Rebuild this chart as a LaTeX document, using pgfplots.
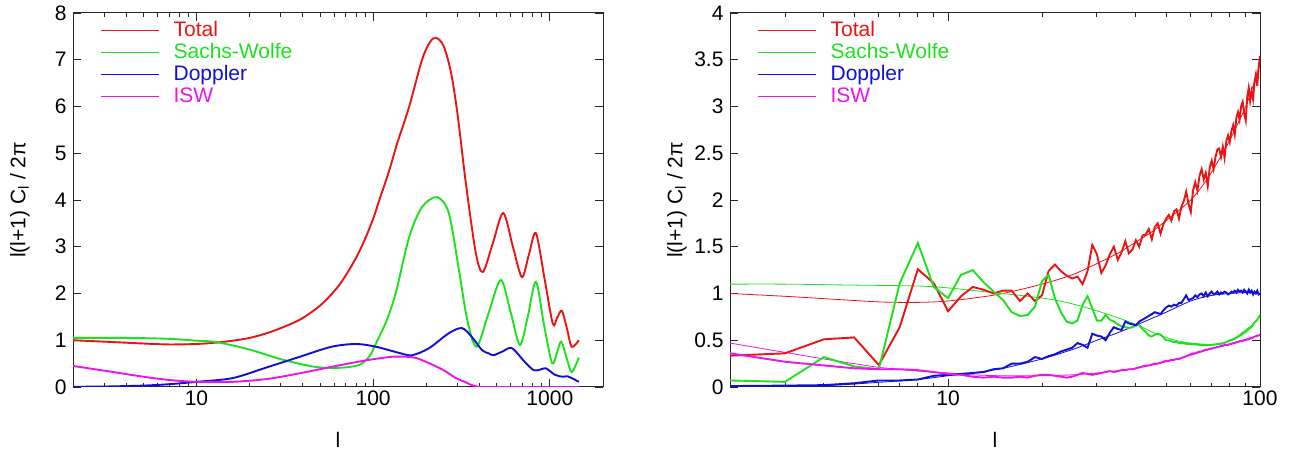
\documentclass[border=0pt]{standalone}
\usepackage{pgfplots}
\pgfplotsset{compat=1.18}
\usepackage{fontspec}
\setmainfont{Liberation Sans}
\definecolor{cR}{RGB}{235,20,20}
\definecolor{cG}{RGB}{30,225,30}
\definecolor{cB}{RGB}{15,15,215}
\definecolor{cM}{RGB}{235,20,235}
\newcommand{\bigfont}{\fontsize{21}{25}\selectfont}
\tikzset{thk/.style={line width=1.9pt}, thn/.style={line width=0.8pt}}
\pgfplotsset{legend image code/.code={\draw[#1, line width=1.4pt] (0pt,0pt) -- (58pt,0pt);}}
\begin{document}
\begin{tikzpicture}[x=1pt,y=1pt]
\useasboundingbox (0,0) rectangle (1293,454);
%================ LEFT =================
\begin{semilogxaxis}[at={(73pt,67pt)}, anchor=south west,
  scale only axis, width=530pt, height=374pt,
  axis line style={black!85, line width=1pt},
  tick style={black!85, line width=0.9pt},
  tick align=inside, major tick length=8pt, minor tick length=4pt,
  /pgf/number format/assume math mode=true,
  ticklabel style={font=\bigfont},
  yticklabel style={xshift=-3pt},
  label style={font=\bigfont},
  ylabel style={at={(axis description cs:-0.1,0.5)}, anchor=center},
  xlabel style={at={(axis description cs:0.5,-0.1417)}, anchor=center},
  legend style={draw=none, fill=none, inner sep=0pt, row sep=3pt, column sep=14pt,
    font=\bigfont, anchor=north west, at={(rel axis cs:0.051,0.979)},
    nodes={inner sep=0pt, text height=15pt, text depth=4pt}},
  legend cell align=left,
  ylabel={l(l+1) C\textsubscript{l} / 2π},
  xlabel={l},
  xmin=2, xmax=2000, ymin=0, ymax=8,
  xtick={10,100,1000}, xticklabels={10,100,1000},
  minor xtick={2,3,4,5,6,7,8,9,20,30,40,50,60,70,80,90,200,300,400,500,600,700,800,900,2000},
  ytick={0,1,2,3,4,5,6,7,8}]
\addplot[cR, thk, smooth] coordinates {
(2,1.00)(3,0.97)(5,0.93)(7,0.91)(10,0.92)(13,0.95)(16,0.99)(20,1.05)(25,1.15)(31,1.28)
(38,1.43)(44,1.58)(50,1.74)(56,1.92)(64,2.17)(73,2.50)(82,2.84)(91,3.21)(100,3.60)
(108,3.98)(123,4.62)(137,5.22)(160,6.00)(189,7.00)(210,7.38)(227,7.47)(250,7.30)
(275,6.75)(300,5.85)(335,4.35)(381,2.87)(418,2.46)(477,3.09)(545,3.72)(618,3.00)
(695,2.35)(760,2.82)(834,3.29)(935,2.30)(1040,1.35)(1100,1.48)(1170,1.63)(1250,1.25)
(1330,0.86)(1460,1.00)};
\addlegendentry{\textcolor{cR}{Total}}
\addplot[cG, thk, smooth] coordinates {
(2,1.05)(4,1.05)(7,1.03)(10,0.99)(13,0.96)(20,0.80)(31,0.58)(47,0.43)(64,0.41)
(83,0.47)(95,0.65)(104,0.94)(120,1.45)(135,2.05)(160,3.21)(189,3.85)(230,4.06)
(268,3.72)(306,2.50)(341,1.43)(385,0.86)(450,1.58)(528,2.29)(600,1.60)(677,0.90)
(750,1.50)(834,2.25)(930,1.30)(1030,0.51)(1100,0.75)(1160,0.97)(1250,0.60)
(1330,0.32)(1460,0.63)};
\addlegendentry{\textcolor{cG}{Sachs-Wolfe}}
\addplot[cB, thk, smooth] coordinates {
(2,0.005)(3,0.01)(5,0.03)(7,0.06)(10,0.11)(16,0.19)(25,0.42)(38,0.64)(58,0.86)
(80,0.92)(104,0.86)(140,0.73)(166,0.68)(207,0.83)(268,1.15)(318,1.26)(362,1.07)
(413,0.79)(450,0.72)(480,0.68)(540,0.76)(610,0.83)(720,0.54)(810,0.36)(880,0.37)
(950,0.40)(1070,0.26)(1180,0.22)(1260,0.23)(1460,0.11)};
\addlegendentry{\textcolor{cB}{Doppler}}
\addplot[cM, thk, smooth] coordinates {
(2,0.45)(3,0.35)(5,0.22)(7,0.15)(10,0.11)(16,0.11)(25,0.17)(38,0.29)(58,0.43)
(91,0.57)(123,0.64)(140,0.65)(175,0.62)(236,0.41)(268,0.29)(294,0.19)(335,0.10)
(362,0.04)(413,0.0)(600,0.0)(1000,0.0)(1460,0.0)};
\addlegendentry{\textcolor{cM}{ISW}}
\end{semilogxaxis}
%================ RIGHT =================
\begin{semilogxaxis}[at={(730pt,67pt)}, anchor=south west,
  scale only axis, width=530pt, height=374pt,
  axis line style={black!85, line width=1pt},
  tick style={black!85, line width=0.9pt},
  tick align=inside, major tick length=8pt, minor tick length=4pt,
  /pgf/number format/assume math mode=true,
  ticklabel style={font=\bigfont},
  yticklabel style={xshift=-3pt},
  label style={font=\bigfont},
  ylabel style={at={(axis description cs:-0.1,0.5)}, anchor=center},
  xlabel style={at={(axis description cs:0.5,-0.1417)}, anchor=center},
  legend style={draw=none, fill=none, inner sep=0pt, row sep=3pt, column sep=14pt,
    font=\bigfont, anchor=north west, at={(rel axis cs:0.051,0.979)},
    nodes={inner sep=0pt, text height=15pt, text depth=4pt}},
  legend cell align=left,
  ylabel={l(l+1) C\textsubscript{l} / 2π},
  xlabel={l},
  xmin=2, xmax=100, ymin=0, ymax=4,
  xtick={10,100}, xticklabels={10,100},
  minor xtick={2,3,4,5,6,7,8,9,20,30,40,50,60,70,80,90},
  ytick={0,0.5,1,1.5,2,2.5,3,3.5,4},
  yticklabels={0,0.5,1,1.5,2,2.5,3,3.5,4}]
% thin theory lines
\addplot[cR, thn, smooth, forget plot] coordinates {
(2,1.0)(3,0.97)(4,0.945)(5,0.925)(6,0.91)(7,0.905)(8,0.905)(9,0.91)(10,0.92)(12,0.95)
(15,1.0)(20,1.1)(25,1.2)(30,1.32)(35,1.43)(40,1.55)(45,1.66)(50,1.78)(55,1.89)(60,2.0)
(65,2.14)(70,2.3)(75,2.47)(80,2.64)(85,2.82)(90,3.0)(95,3.22)(100,3.45)};
\addplot[cG, thn, smooth, forget plot] coordinates {
(2,1.10)(3,1.10)(5,1.09)(8,1.08)(10,1.06)(13,1.02)(17,0.98)(22,0.93)(27,0.86)(33,0.77)
(40,0.67)(45,0.59)(50,0.53)(55,0.49)(60,0.47)(70,0.455)(80,0.49)(88,0.56)(94,0.64)(100,0.76)};
\addplot[cB, thn, smooth, forget plot] coordinates {
(2,0.005)(4,0.015)(6,0.05)(8,0.08)(10,0.12)(12,0.15)(15,0.2)(20,0.3)(25,0.4)(30,0.5)
(35,0.58)(40,0.66)(50,0.8)(60,0.92)(70,0.98)(80,1.0)(90,1.01)(100,1.0)};
\addplot[cM, thn, smooth, forget plot] coordinates {
(2,0.47)(3,0.37)(4,0.30)(5,0.25)(6,0.21)(7,0.19)(8,0.17)(10,0.15)(12,0.13)(15,0.12)
(20,0.12)(25,0.13)(30,0.15)(40,0.20)(50,0.27)(60,0.34)(70,0.41)(80,0.46)(90,0.51)(100,0.56)};
% thick realisation lines
\addplot[cR, thk] coordinates {
(2,0.335)(3,0.36)(4,0.51)(5,0.53)(6,0.235)(7,0.64)(8,1.26)(9,1.11)(10,0.81)(11,0.97)
(12,1.07)(13,1.04)(14,1.00)(15,1.03)(16,1.03)(17,0.92)(18,1.00)(19,0.92)(20,0.98)
(21,1.24)(22,1.31)(23,1.24)(24,1.19)(25,1.16)(26,1.18)(27,1.10)(28,1.24)(29,1.52)
(30,1.42)(31,1.22)(32,1.30)(33,1.42)(34,1.50)(35,1.36)(36,1.44)(37,1.56)(38,1.43)
(39,1.47)(40,1.57)(41,1.50)(42,1.62)(43,1.63)(44,1.69)(45,1.58)(46,1.71)(47,1.75)
(48,1.64)(49,1.74)(50,1.80)(51,1.84)(52,1.78)(53,1.88)(54,1.90)(55,1.80)(56,1.93)
(57,1.99)(58,2.09)(59,1.96)(60,1.87)(61,2.10)(62,2.19)(63,2.10)(64,2.26)(65,2.33)
(66,2.22)(67,2.29)(68,2.15)(69,2.35)(70,2.42)(71,2.33)(72,2.46)(73,2.54)(74,2.55)
(75,2.46)(76,2.57)(77,2.45)(78,2.63)(79,2.69)(80,2.62)(81,2.74)(82,2.80)(83,2.70)
(84,2.88)(85,2.94)(86,2.86)(87,3.00)(88,3.05)(89,2.92)(90,2.85)(91,3.10)(92,3.20)
(93,3.06)(94,3.16)(95,3.08)(96,3.26)(97,3.34)(98,3.22)(99,3.42)(100,3.54)};
\addlegendentry{\textcolor{cR}{Total}}
\addplot[cG, thk] coordinates {
(2,0.07)(3,0.055)(4,0.32)(5,0.22)(6,0.19)(7,1.11)(8,1.54)(9,1.07)(10,0.95)(11,1.20)
(12,1.25)(13,1.12)(14,1.02)(15,0.93)(16,0.80)(17,0.76)(18,0.77)(19,0.86)(20,1.13)
(21,1.20)(22,0.95)(23,0.80)(24,0.70)(25,0.68)(26,0.71)(27,0.88)(28,0.97)(29,0.84)
(30,0.71)(31,0.71)(32,0.77)(33,0.72)(34,0.70)(35,0.67)(36,0.65)(37,0.64)(38,0.63)
(39,0.64)(40,0.66)(41,0.66)(42,0.62)(43,0.59)(44,0.55)(45,0.54)(46,0.56)(47,0.57)
(48,0.56)(49,0.53)(50,0.50)(51,0.50)(52,0.49)(53,0.48)(54,0.48)(55,0.47)(56,0.47)
(57,0.47)(58,0.46)(60,0.46)(62,0.455)(64,0.45)(66,0.45)(68,0.45)(70,0.45)(72,0.455)
(74,0.46)(76,0.465)(78,0.48)(80,0.50)(82,0.51)(84,0.53)(86,0.55)(88,0.58)(90,0.60)
(92,0.63)(94,0.65)(96,0.69)(98,0.72)(100,0.77)};
\addlegendentry{\textcolor{cG}{Sachs-Wolfe}}
\addplot[cB, thk] coordinates {
(2,0.01)(3,0.015)(4,0.02)(5,0.04)(6,0.07)(7,0.07)(8,0.08)(9,0.12)(10,0.13)(11,0.14)
(12,0.15)(13,0.16)(14,0.19)(15,0.20)(16,0.25)(17,0.25)(18,0.27)(19,0.32)(20,0.30)
(21,0.33)(22,0.35)(23,0.38)(24,0.40)(25,0.42)(26,0.47)(27,0.45)(28,0.42)(29,0.57)
(30,0.55)(31,0.54)(32,0.50)(33,0.58)(34,0.64)(35,0.62)(36,0.61)(37,0.70)(38,0.68)
(39,0.67)(40,0.66)(41,0.70)(42,0.72)(43,0.74)(44,0.76)(45,0.78)(46,0.80)(47,0.79)
(48,0.78)(49,0.82)(50,0.85)(51,0.87)(52,0.86)(53,0.88)(54,0.87)(55,0.90)(56,0.90)
(57,0.94)(58,0.98)(59,0.93)(60,0.94)(61,0.95)(62,0.98)(63,0.96)(64,0.99)(65,1.00)
(66,0.97)(67,1.01)(68,0.97)(69,1.00)(70,1.02)(71,0.99)(72,1.00)(73,1.02)(74,0.99)
(75,1.01)(76,1.00)(77,1.02)(78,1.01)(79,0.99)(80,1.00)(81,1.02)(82,1.01)(83,1.03)
(84,1.01)(85,1.04)(86,1.02)(87,1.03)(88,1.01)(89,1.04)(90,1.02)(91,1.00)(92,1.04)
(93,1.01)(94,1.03)(95,0.99)(96,1.02)(97,1.00)(98,1.03)(99,0.99)(100,1.00)};
\addlegendentry{\textcolor{cB}{Doppler}}
\addplot[cM, thk] coordinates {
(2,0.36)(3,0.27)(4,0.23)(5,0.20)(6,0.19)(7,0.19)(8,0.18)(9,0.16)(10,0.14)(11,0.13)
(12,0.11)(13,0.10)(14,0.11)(15,0.10)(16,0.10)(17,0.11)(18,0.10)(19,0.12)(20,0.13)
(21,0.13)(22,0.12)(23,0.11)(24,0.10)(25,0.11)(26,0.13)(27,0.15)(28,0.14)(29,0.13)
(30,0.14)(31,0.15)(32,0.16)(33,0.17)(34,0.16)(35,0.17)(36,0.18)(37,0.18)(38,0.19)
(39,0.19)(40,0.20)(41,0.21)(42,0.22)(43,0.23)(44,0.23)(45,0.24)(46,0.25)(47,0.25)
(48,0.26)(49,0.27)(50,0.28)(51,0.28)(52,0.29)(53,0.29)(54,0.30)(55,0.30)(56,0.31)
(57,0.32)(58,0.33)(59,0.34)(60,0.35)(61,0.36)(62,0.36)(63,0.37)(64,0.38)(65,0.38)
(66,0.39)(67,0.40)(68,0.40)(69,0.41)(70,0.41)(71,0.42)(72,0.42)(73,0.43)(74,0.43)
(75,0.44)(76,0.44)(77,0.45)(78,0.45)(79,0.45)(80,0.46)(81,0.46)(82,0.47)(83,0.47)
(84,0.48)(85,0.48)(86,0.49)(87,0.49)(88,0.49)(89,0.50)(90,0.50)(91,0.51)(92,0.51)
(93,0.52)(94,0.52)(95,0.53)(96,0.54)(97,0.54)(98,0.55)(99,0.55)(100,0.56)};
\addlegendentry{\textcolor{cM}{ISW}}
\end{semilogxaxis}
\end{tikzpicture}
\end{document}
